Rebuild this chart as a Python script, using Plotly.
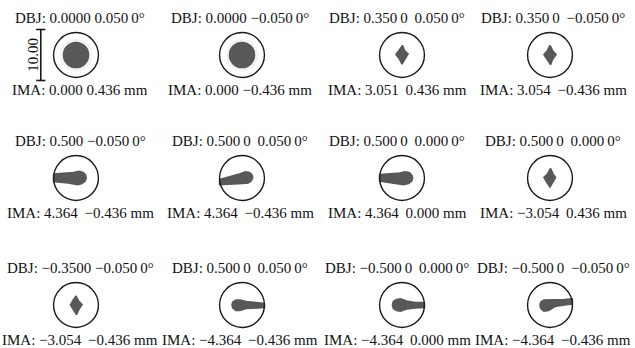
import plotly.graph_objects as go

T = "\u2009"  # thin space used for digit grouping in the original labels

# ---------------- data ----------------
dbj_labels = [
    "DBJ: 0.0000 0.050" + T + "0°", "DBJ: 0.0000 −0.050" + T + "0°",
    "DBJ: 0.350" + T + "0 " + T + "0.050" + T + "0°", "DBJ: 0.350" + T + "0 " + T + "−0.050" + T + "0°",
    "DBJ: 0.500 −0.050" + T + "0°", "DBJ: 0.500" + T + "0 " + T + "0.050" + T + "0°",
    "DBJ: 0.500" + T + "0 " + T + "0.000" + T + "0°", "DBJ: 0.500" + T + "0 " + T + "0.000" + T + "0°",
    "DBJ: −0.3500 −0.050" + T + "0°", "DBJ: 0.500" + T + "0 " + T + "0.050" + T + "0°",
    "DBJ: −0.500" + T + "0 " + T + "0.000" + T + "0°", "DBJ: −0.500" + T + "0 " + T + "−0.050" + T + "0°",
]
ima_labels = [
    "IMA: 0.000 0.436 mm", "IMA: 0.000 −0.436 mm",
    "IMA: 3.051 " + T + "0.436 mm", "IMA: 3.054 " + T + "−0.436 mm",
    "IMA: 4.364 " + T + "−0.436 mm", "IMA: 4.364 " + T + "−0.436 mm",
    "IMA: 4.364 " + T + "0.000 mm", "IMA: −3.054 " + T + "0.436 mm",
    "IMA: −3.054 " + T + "−0.436 mm", "IMA: −4.364 " + T + "−0.436 mm",
    "IMA: −4.364 " + T + "0.000 mm", "IMA: −4.364 " + T + "−0.436 mm",
]

airy_radius_um = 4.4      # Airy disk radius (µm)
scale_bar_um = 10.0       # scale bar length (µm)
disc_radius_um = [2.6, 2.6, None, None, None, None, None, None, None, None, None, None]

# spot outlines (µm); None = round disc
spot_x = [
    None, None,
    [0.1, 0.5, 1.2, 0.6, 0.0, -0.5, -1.2, -0.6],
    [0.0, 0.5, 1.2, 0.5, 0.1, -0.6, -1.2, -0.5],
    [-4.4, -2.5, -0.5, 0.6, 1.4, 1.9, 2.0, 1.8, 1.2, 0.3, -1.5, -4.4],
    [-4.4, -2.5, -0.5, 0.7, 1.5, 2.0, 2.1, 1.8, 1.2, 0.2, -1.8, -4.4],
    [-4.4, -2.5, -0.5, 0.6, 1.4, 1.9, 2.1, 1.9, 1.3, 0.3, -1.5, -4.4],
    [0.1, 0.6, 1.1, 0.6, 0.0, -0.6, -1.2, -0.5],
    [0.0, 0.5, 1.2, 0.6, 0.1, -0.5, -1.1, -0.6],
    [-2.0, -1.8, -1.2, -0.4, 0.8, 2.5, 4.4, 4.4, 2.5, 0.8, -0.4, -1.2, -1.8],
    [-1.9, -1.7, -1.1, -0.3, 0.9, 2.6, 4.4, 4.4, 2.6, 0.9, -0.3, -1.1, -1.7],
    [-2.0, -1.8, -1.2, -0.3, 1.0, 2.8, 4.4, 4.4, 2.8, 1.0, -0.3, -1.2, -1.8],
]
spot_y = [
    None, None,
    [1.9, 0.9, 0.2, -0.8, -1.8, -0.8, 0.1, 0.9],
    [1.9, 0.9, 0.1, -0.9, -1.9, -0.8, 0.1, 0.9],
    [0.8, 0.9, 1.1, 1.3, 1.1, 0.6, 0.0, -0.6, -1.1, -1.3, -1.0, -0.7],
    [-0.3, 0.2, 0.8, 1.2, 1.1, 0.6, 0.0, -0.6, -1.0, -1.1, -1.2, -1.3],
    [0.7, 0.8, 1.0, 1.2, 1.1, 0.6, 0.0, -0.6, -1.1, -1.3, -1.0, -0.6],
    [1.9, 0.8, 0.1, -0.9, -1.8, -0.9, 0.1, 0.8],
    [1.8, 0.8, 0.1, -0.8, -1.9, -0.9, 0.0, 0.9],
    [0.0, 0.6, 1.0, 1.0, 0.7, 0.5, 0.3, -0.5, -0.6, -0.7, -1.1, -1.1, -0.6],
    [0.0, 0.7, 1.1, 1.2, 0.8, 0.5, 0.5, -0.5, -0.6, -0.8, -1.2, -1.1, -0.7],
    [-0.1, 0.6, 1.0, 1.0, 1.0, 1.1, 1.2, 0.2, 0.0, -0.3, -1.1, -1.2, -0.7],
]

# ---------------- layout geometry (pixels) ----------------
W, H = 635, 348
PX = 5.1                 # pixels per µm
HX, HY = 50, 40          # half-size of each panel box (px)
col_cx = [76, 242, 402, 550]
row_cy = [55, 178, 305]
text_cx = [80, 240, 397, 553]
dbj_dy, ima_dy = 37, 35

SPOT = "#585858"
FONT = dict(family="Liberation Serif, Times New Roman, serif", size=15, color="#111111")

fig = go.Figure()
shapes, annotations = [], []
layout_axes = {}

for i in range(12):
    r, c = divmod(i, 4)
    n = "" if i == 0 else str(i + 1)
    cx, cy = col_cx[c], row_cy[r]
    layout_axes["xaxis" + n] = dict(domain=[(cx - HX) / W, (cx + HX) / W],
                                    range=[-HX / PX, HX / PX], visible=False, fixedrange=True,
                                    anchor="y" + n)
    layout_axes["yaxis" + n] = dict(domain=[1 - (cy + HY) / H, 1 - (cy - HY) / H],
                                    range=[-HY / PX, HY / PX], visible=False, fixedrange=True,
                                    anchor="x" + n)
    xr, yr = "x" + n, "y" + n

    if spot_x[i] is None:
        rd = disc_radius_um[i]
        shapes.append(dict(type="circle", xref=xr, yref=yr, x0=-rd - 0.6, x1=rd + 0.6,
                           y0=-rd - 0.6, y1=rd + 0.6, fillcolor="#f3f3f3", line=dict(width=0),
                           layer="below"))
        shapes.append(dict(type="circle", xref=xr, yref=yr, x0=-rd, x1=rd, y0=-rd, y1=rd,
                           fillcolor=SPOT, line=dict(width=0)))
    else:
        fig.add_trace(go.Scatter(x=spot_x[i] + [spot_x[i][0]], y=spot_y[i] + [spot_y[i][0]],
                                 xaxis=xr, yaxis=yr, mode="lines", fill="toself",
                                 fillcolor=SPOT, line=dict(color=SPOT, width=1.5),
                                 hoverinfo="skip", showlegend=False))

    shapes.append(dict(type="circle", xref=xr, yref=yr,
                       x0=-airy_radius_um, x1=airy_radius_um,
                       y0=-airy_radius_um, y1=airy_radius_um,
                       line=dict(color="#1a1a1a", width=1.4)))

    annotations.append(dict(text=dbj_labels[i], xref="paper", yref="paper",
                            x=text_cx[c] / W, y=1 - (cy - dbj_dy) / H,
                            xanchor="center", yanchor="middle", showarrow=False, font=FONT))
    annotations.append(dict(text=ima_labels[i], xref="paper", yref="paper",
                            x=text_cx[c] / W, y=1 - (cy + ima_dy) / H,
                            xanchor="center", yanchor="middle", showarrow=False, font=FONT))

# scale bar in the first panel
bx = -6.9
hb = scale_bar_um / 2
cap = 0.9
fig.add_trace(go.Scatter(x=[bx, bx, None, bx - cap, bx + cap, None, bx - cap, bx + cap],
                         y=[-hb, hb, None, hb, hb, None, -hb, -hb],
                         xaxis="x", yaxis="y", mode="lines",
                         line=dict(color="#1a1a1a", width=1.6),
                         hoverinfo="skip", showlegend=False))
annotations.append(dict(text=f"{scale_bar_um:.2f}", xref="x", yref="y", x=-8.5, y=0,
                        textangle=-90, xanchor="center", yanchor="middle",
                        showarrow=False, font=FONT))

fig.update_layout(width=W, height=H, margin=dict(l=0, r=0, t=0, b=0),
                  paper_bgcolor="white", plot_bgcolor="white",
                  shapes=shapes, annotations=annotations, showlegend=False,
                  **layout_axes)
fig.write_html("out.html", config={"displayModeBar": False},
               post_script="document.body.style.margin='0';document.body.style.overflow='hidden';")
